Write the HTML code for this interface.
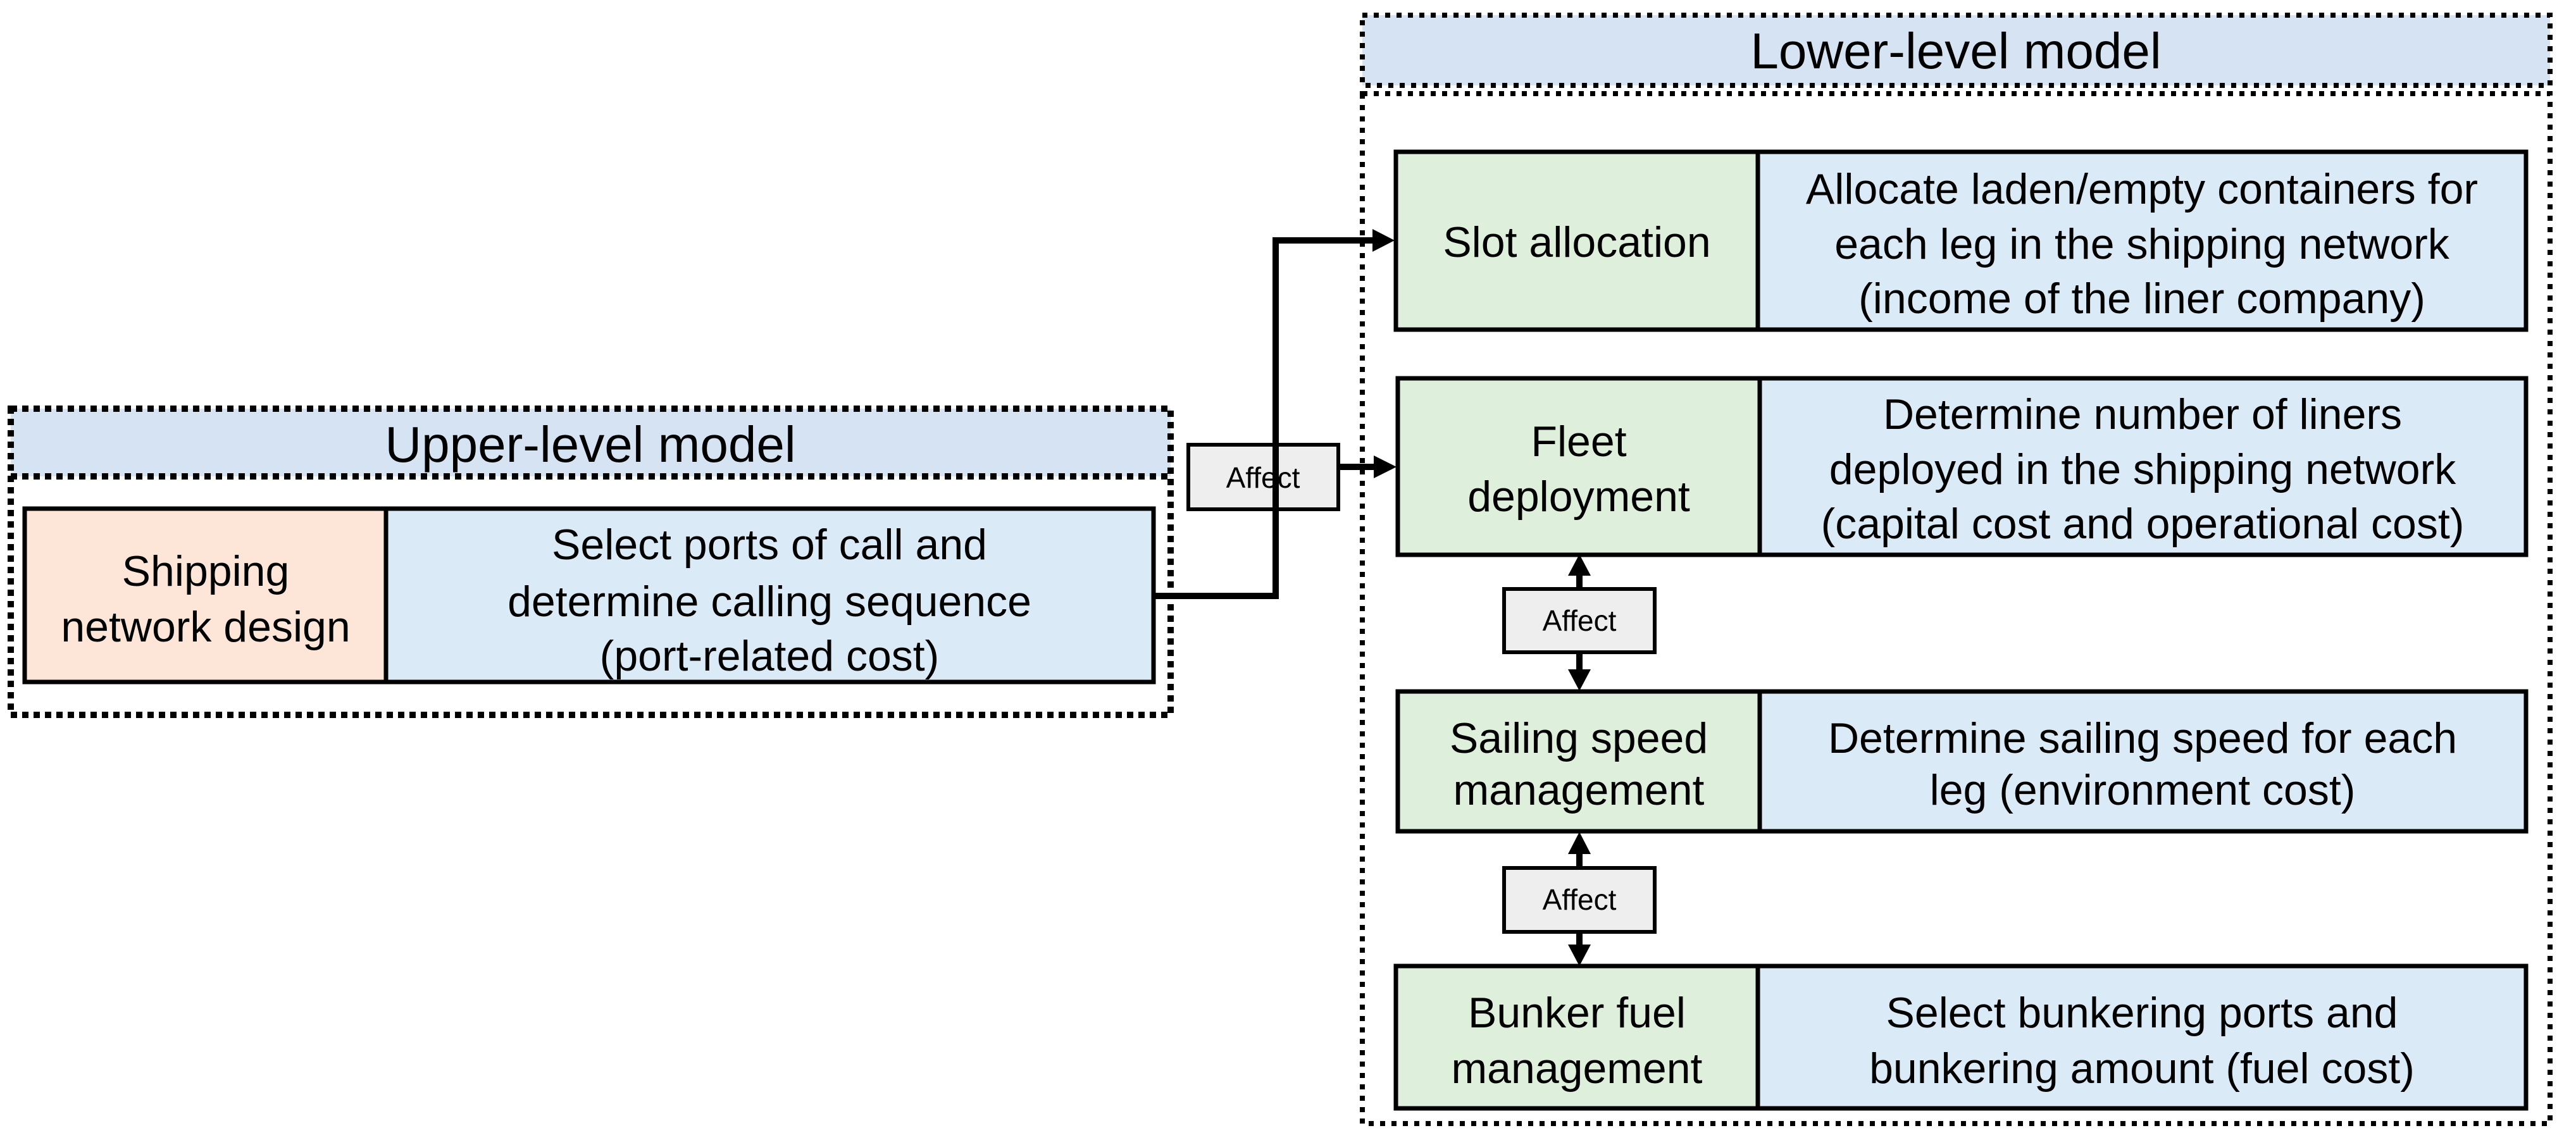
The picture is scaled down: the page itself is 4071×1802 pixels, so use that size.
<!DOCTYPE html>
<html><head><meta charset="utf-8"><style>
html,body{margin:0;padding:0;background:#fff}
svg{display:block}
text{font-family:"Liberation Sans",Arial,sans-serif;fill:#000}
</style></head><body>
<svg width="4071" height="1802" viewBox="0 0 4071 1802" xmlns="http://www.w3.org/2000/svg">
<defs>
<marker id="ah" markerWidth="10" markerHeight="10" refX="9" refY="5" orient="auto" markerUnits="userSpaceOnUse" viewBox="0 0 10 10"><path d="M0,0 L10,5 L0,10 z" fill="#000"/></marker>
</defs>
<!-- Upper group -->
<rect x="17" y="646" width="1833" height="107" fill="#d6e3f3"/>
<rect x="17" y="646" width="1833" height="484" fill="none" stroke="#000" stroke-width="10" stroke-dasharray="10 8"/>
<line x1="17" y1="753" x2="1850" y2="753" stroke="#000" stroke-width="10" stroke-dasharray="10 8"/>
<text x="933" y="730" font-size="80" text-anchor="middle">Upper-level model</text>
<rect x="39" y="804" width="571" height="274" fill="#fde5d8" stroke="#000" stroke-width="7"/>
<rect x="610" y="804" width="1213" height="274" fill="#dbeaf7" stroke="#000" stroke-width="7"/>
<g font-size="68" text-anchor="middle">
<text x="325" y="926">Shipping</text>
<text x="325" y="1014">network design</text>
<text x="1216" y="884">Select ports of call and</text>
<text x="1216" y="974">determine calling sequence</text>
<text x="1216" y="1060">(port-related cost)</text>
</g>
<!-- Lower group -->
<rect x="2153" y="24" width="1877" height="111" fill="#d6e3f3" stroke="#000" stroke-width="8" stroke-dasharray="8 10"/>
<text x="3091" y="108" font-size="80" text-anchor="middle">Lower-level model</text>
<rect x="2153" y="148" width="1877" height="1628" fill="none" stroke="#000" stroke-width="8" stroke-dasharray="8 10"/>

<g stroke="#000" stroke-width="7">
<rect x="2206" y="240" width="572" height="281" fill="#deefdb"/>
<rect x="2778" y="240" width="1214" height="281" fill="#dbeaf7"/>
<rect x="2209" y="598" width="572" height="279" fill="#deefdb"/>
<rect x="2781" y="598" width="1211" height="279" fill="#dbeaf7"/>
<rect x="2209" y="1093" width="572" height="221" fill="#deefdb"/>
<rect x="2781" y="1093" width="1211" height="221" fill="#dbeaf7"/>
<rect x="2206" y="1527" width="572" height="225" fill="#deefdb"/>
<rect x="2778" y="1527" width="1214" height="225" fill="#dbeaf7"/>
</g>
<g font-size="68" text-anchor="middle">
<text x="2492" y="406">Slot allocation</text>
<text x="3385" y="322">Allocate laden/empty containers for</text>
<text x="3385" y="409">each leg in the shipping network</text>
<text x="3385" y="495">(income of the liner company)</text>
<text x="2495" y="721">Fleet</text>
<text x="2495" y="808">deployment</text>
<text x="3386" y="678">Determine number of liners</text>
<text x="3386" y="765">deployed in the shipping network</text>
<text x="3386" y="851">(capital cost and operational cost)</text>
<text x="2495" y="1190">Sailing speed</text>
<text x="2495" y="1272">management</text>
<text x="3386" y="1190">Determine sailing speed for each</text>
<text x="3386" y="1272">leg (environment cost)</text>
<text x="2492" y="1624">Bunker fuel</text>
<text x="2492" y="1712">management</text>
<text x="3385" y="1624">Select bunkering ports and</text>
<text x="3385" y="1712">bunkering amount (fuel cost)</text>
</g>

<!-- connectors -->
<g stroke="#000" stroke-width="10" fill="none">
<polyline points="1823,942 2016,942 2016,380 2170,380"/>
<line x1="2117" y1="738" x2="2172" y2="738"/>
<line x1="2496" y1="905" x2="2496" y2="930"/>
<line x1="2496" y1="1032" x2="2496" y2="1060"/>
<line x1="2496" y1="1345" x2="2496" y2="1371"/>
<line x1="2496" y1="1474" x2="2496" y2="1495"/>
</g>
<g fill="#000">
<path d="M2169,362 L2204,380 L2169,398 z"/>
<path d="M2171,720 L2207,738 L2171,756 z"/>
<path d="M2478,910 L2496,876 L2514,910 z"/>
<path d="M2478,1058 L2496,1092 L2514,1058 z"/>
<path d="M2478,1350 L2496,1315 L2514,1350 z"/>
<path d="M2478,1493 L2496,1527 L2514,1493 z"/>
</g>
<!-- Affect boxes -->
<g stroke="#000" stroke-width="6" fill="#eeeeee">
<rect x="1878" y="703" width="237" height="102"/>
<rect x="2377" y="931" width="238" height="100"/>
<rect x="2377" y="1372" width="238" height="101"/>
</g>
<line x1="2016" y1="700" x2="2016" y2="808" stroke="#000" stroke-width="10"/>
<g font-size="46" text-anchor="middle">
<text x="1996" y="771">Affect</text>
<text x="2496" y="997">Affect</text>
<text x="2496" y="1438">Affect</text>
</g>
</svg>
</body></html>
